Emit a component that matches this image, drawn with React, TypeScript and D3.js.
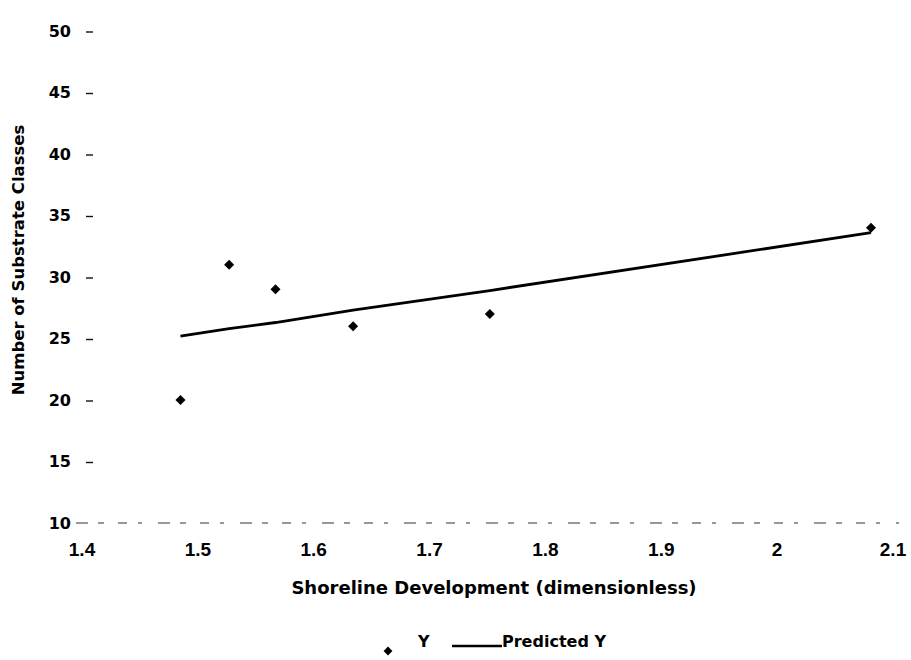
import React, { useEffect, useRef } from 'react'
import * as d3 from 'd3'

// shoreline development (x) vs number of substrate classes (y)
const shoreline = [1.485, 1.527, 1.567, 1.634, 1.752, 2.081]
const substrateClasses = [20, 31, 29, 26, 27, 34]
const predicted = [25.2, 25.8, 26.3, 27.3, 28.9, 33.6]

const xTicks = [1.4, 1.5, 1.6, 1.7, 1.8, 1.9, 2, 2.1]
const yTicks = [10, 15, 20, 25, 30, 35, 40, 45, 50]

const width = 911
const height = 660
const font = '"DejaVu Sans", Verdana, sans-serif'
const narrow = '"Liberation Sans", Arial, sans-serif'

export default function App() {
    const ref = useRef<SVGSVGElement>(null)

    useEffect(() => {
        const svg = d3.select(ref.current)
        svg.selectAll('*').remove()

        const x = d3.scaleLinear().domain([1.4, 2.1]).range([82, 893])
        const y = d3.scaleLinear().domain([10, 50]).range([523, 31])

        // x axis baseline (broken, like a scanned print)
        svg.append('line')
            .attr('x1', x(1.4) - 6).attr('x2', x(2.1) + 6)
            .attr('y1', y(10)).attr('y2', y(10))
            .attr('stroke', '#333')
            .attr('stroke-width', 1.2)
            .attr('stroke-dasharray', '12,10,6,14,9,11,4,16')

        // y ticks
        const yAxis = svg.append('g')
        yAxis.selectAll('text')
            .data(yTicks)
            .join('text')
            .attr('x', 71)
            .attr('y', d => y(d))
            .attr('dy', '0.36em')
            .attr('text-anchor', 'end')
            .attr('font-family', font)
            .attr('font-weight', 'bold')
            .attr('font-size', 16)
            .text(d => d)
        yAxis.selectAll('line')
            .data(yTicks.slice(1))
            .join('line')
            .attr('x1', 86).attr('x2', 93)
            .attr('y1', d => y(d) + 1).attr('y2', d => y(d) + 1)
            .attr('stroke', '#111')
            .attr('stroke-width', 1.4)

        // x ticks
        svg.append('g').selectAll('text')
            .data(xTicks)
            .join('text')
            .attr('x', d => x(d))
            .attr('y', 556)
            .attr('text-anchor', 'middle')
            .attr('font-family', narrow)
            .attr('font-weight', 'bold')
            .attr('font-size', 19)
            .text(d => d)

        // axis titles
        svg.append('text')
            .attr('x', 494)
            .attr('y', 594)
            .attr('text-anchor', 'middle')
            .attr('font-family', font)
            .attr('font-weight', 'bold')
            .attr('font-size', 18)
            .text('Shoreline Development (dimensionless)')

        svg.append('text')
            .attr('transform', 'translate(24,260) rotate(-90)')
            .attr('text-anchor', 'middle')
            .attr('font-family', font)
            .attr('font-weight', 'bold')
            .attr('font-size', 16.5)
            .text('Number of Substrate Classes')

        // predicted line
        const line = d3.line<number>()
            .x((d, i) => x(shoreline[i]))
            .y(d => y(d))
        svg.append('path')
            .datum(predicted)
            .attr('fill', 'none')
            .attr('stroke', '#000')
            .attr('stroke-width', 2.8)
            .attr('d', line)

        // observed points
        const diamond = d3.symbol().type(d3.symbolDiamond2).size(64)
        svg.append('g').selectAll('path')
            .data(substrateClasses)
            .join('path')
            .attr('transform', (d, i) => `translate(${x(shoreline[i])},${y(d)})`)
            .attr('d', diamond)
            .attr('fill', '#000')

        // legend
        const legend = svg.append('g')
        legend.append('path')
            .attr('transform', 'translate(388,651)')
            .attr('d', d3.symbol().type(d3.symbolDiamond2).size(50))
            .attr('fill', '#000')
        legend.append('text')
            .attr('x', 418).attr('y', 647)
            .attr('font-family', font)
            .attr('font-weight', 'bold')
            .attr('font-size', 16)
            .text('Y')
        legend.append('line')
            .attr('x1', 452).attr('x2', 502)
            .attr('y1', 646).attr('y2', 646)
            .attr('stroke', '#000')
            .attr('stroke-width', 2.4)
        legend.append('text')
            .attr('x', 502).attr('y', 647)
            .attr('font-family', font)
            .attr('font-weight', 'bold')
            .attr('font-size', 16)
            .text('Predicted Y')
    }, [])

    return (
        <svg
            ref={ref}
            width={width}
            height={height}
            style={{ position: 'absolute', left: 0, top: 0, background: '#fff' }}
        />
    )
}
